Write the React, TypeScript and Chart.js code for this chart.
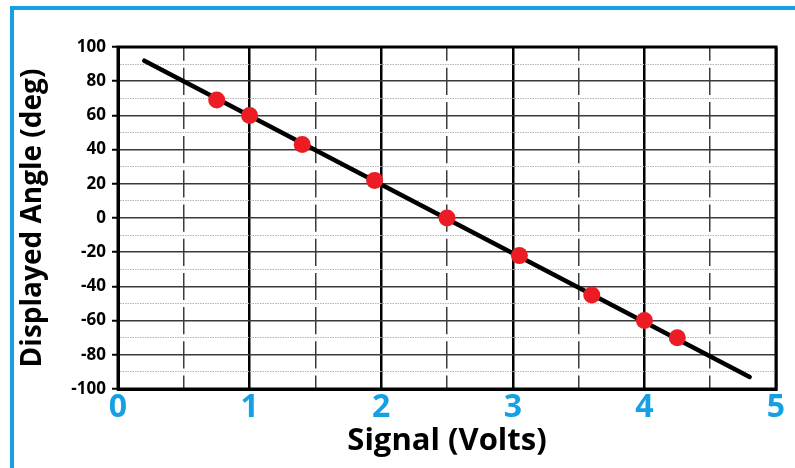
import React, { useEffect, useRef } from "react";
import { Chart, registerables } from "chart.js";

Chart.register(...registerables);

// Fitted calibration line (Volts -> degrees)
const lineVolts = [0.2, 4.8];
const lineAngles = [92, -93];

// Measured points
const pointVolts = [0.75, 1.0, 1.4, 1.95, 2.5, 3.05, 3.6, 4.0, 4.25];
const pointAngles = [69, 60, 43, 22, 0, -22, -45, -60, -70];

const xTitle = "Signal (Volts)";
const yTitle = "Displayed Angle (deg)";

const BLUE = "#16a0e4";
const FONT = "'Open Sans', 'DejaVu Sans', sans-serif";

const framePlugin = {
  id: "frame",
  beforeDatasetsDraw(chart: any) {
    const { ctx, chartArea } = chart;
    ctx.save();
    ctx.strokeStyle = "#000";
    ctx.lineWidth = 3;
    ctx.strokeRect(chartArea.left, chartArea.top, chartArea.right - chartArea.left, chartArea.bottom - chartArea.top);
    ctx.restore();
  },
};

export default function App() {
  const ref = useRef<HTMLCanvasElement>(null);

  useEffect(() => {
    if (!ref.current) return;
    const chart = new Chart(ref.current, {
      type: "scatter",
      data: {
        datasets: [
          {
            label: "points",
            data: pointVolts.map((x, i) => ({ x, y: pointAngles[i] })),
            backgroundColor: "#ec1c24",
            borderColor: "#ec1c24",
            pointRadius: 8.5,
            pointBorderWidth: 0,
            showLine: false,
            order: 0,
          },
          {
            label: "line",
            data: lineVolts.map((x, i) => ({ x, y: lineAngles[i] })),
            borderColor: "#000",
            borderWidth: 4.5,
            borderCapStyle: "round",
            pointRadius: 0,
            showLine: true,
            order: 1,
          },
        ],
      },
      options: {
        animation: false,
        responsive: false,
        events: [],
        layout: { padding: { top: 47, right: 19, bottom: 0, left: 0 } },
        plugins: { legend: { display: false }, tooltip: { enabled: false } },
        scales: {
          x: {
            type: "linear",
            min: 0,
            max: 5,
            afterFit: (s: any) => {
              s.height = 79;
            },
            ticks: {
              stepSize: 0.5,
              autoSkip: false,
              maxRotation: 0,
              padding: 0,
              color: BLUE,
              font: { family: FONT, size: 32, weight: "bold" },
              callback: (v: any) => (Number.isInteger(Number(v)) ? String(v) : ""),
            },
            grid: {
              drawTicks: false,
              color: (c: any) => (c.tick && Number.isInteger(c.tick.value) ? "#000" : "#3c3c3c"),
              lineWidth: (c: any) => (c.tick && Number.isInteger(c.tick.value) ? 2.5 : 1.5),
            },
            border: {
              color: "#000",
              width: 3,
              dash: (c: any) => (c.tick && !Number.isInteger(c.tick.value) ? [27.2, 7] : []),
              dashOffset: (c: any) => (c.tick && !Number.isInteger(c.tick.value) ? 13.5 : 0),
            },
            title: {
              display: true,
              text: xTitle,
              color: "#000",
              font: { family: FONT, size: 31, weight: "bold" },
              padding: { top: 0, bottom: 8 },
            },
          },
          y: {
            type: "linear",
            min: -100,
            max: 100,
            afterFit: (s: any) => {
              s.width = 118;
            },
            ticks: {
              stepSize: 10,
              autoSkip: false,
              padding: 6,
              color: "#000",
              font: { family: FONT, size: 17, weight: "bold" },
              callback: (v: any) => (Number(v) % 20 === 0 ? String(v) : ""),
            },
            grid: {
              drawTicks: true,
              tickLength: 6,
              color: (c: any) => (c.tick && c.tick.value % 20 === 0 ? "#3a3a3a" : "#b4b4b4"),
              lineWidth: (c: any) => (c.tick && c.tick.value % 20 === 0 ? 1.5 : 1),
              tickColor: (c: any) => (c.tick && c.tick.value % 20 === 0 ? "#000" : "rgba(0,0,0,0)"),
              tickWidth: 2,
            },
            border: {
              color: "#000",
              width: 3,
              dash: (c: any) => (c.tick && c.tick.value % 20 !== 0 ? [1.5, 1] : []),
            },
            title: {
              display: true,
              text: yTitle,
              color: "#000",
              font: { family: FONT, size: 28, weight: "bold" },
              padding: { top: 16, bottom: 0 },
            },
          },
        },
      },
      plugins: [framePlugin],
    });
    return () => chart.destroy();
  }, []);

  return (
    <div style={{ position: "absolute", left: 0, top: 0, width: 795, height: 468, background: "#fff" }}>
      <canvas ref={ref} width={795} height={468} style={{ position: "absolute", left: 0, top: 0 }} />
      <div
        style={{
          position: "absolute",
          left: 10,
          top: 6,
          width: 785,
          height: 462,
          borderTop: `4px solid ${BLUE}`,
          borderLeft: `4px solid ${BLUE}`,
          boxSizing: "border-box",
          pointerEvents: "none",
        }}
      />
    </div>
  );
}
